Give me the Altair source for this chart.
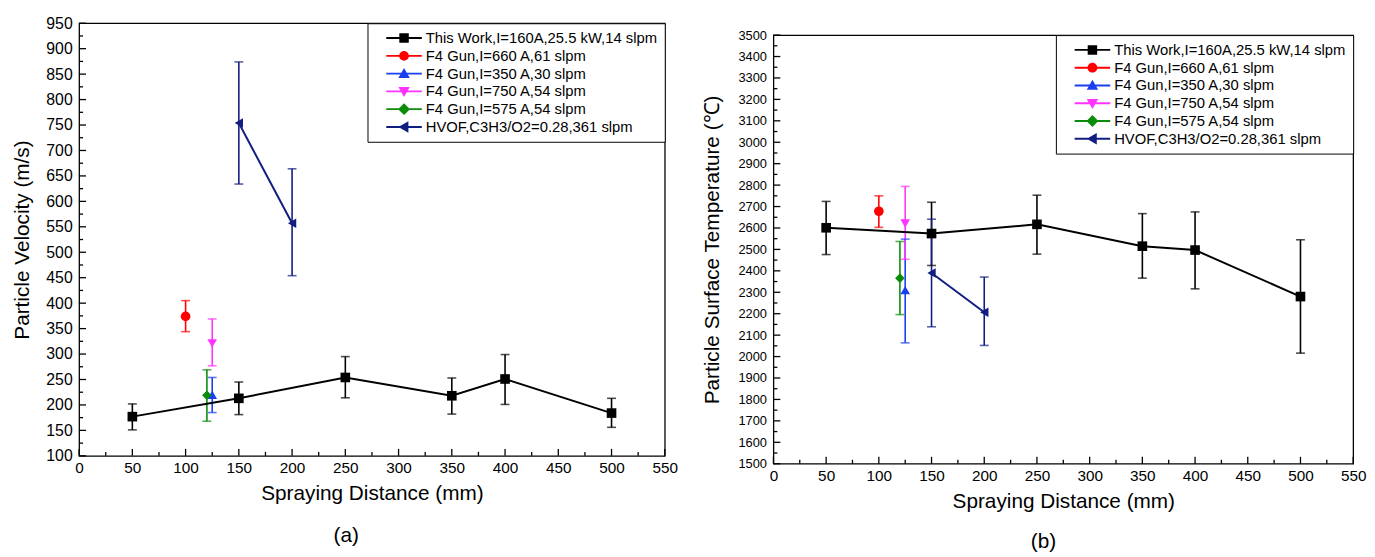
import altair as alt
import pandas as pd

FONT = "Liberation Sans"

# ---------------- data ----------------
series = [
    "This Work,I=160A,25.5 kW,14 slpm",
    "F4 Gun,I=660 A,61 slpm",
    "F4 Gun,I=350 A,30 slpm",
    "F4 Gun,I=750 A,54 slpm",
    "F4 Gun,I=575 A,54 slpm",
    "HVOF,C3H3/O2=0.28,361 slpm",
]

# spraying distance (mm)
dist_work = [50, 150, 250, 350, 400, 500]
dist_f4_660 = [100]
dist_f4_350 = [125]
dist_f4_750 = [125]
dist_f4_575 = [120]
dist_hvof = [150, 200]

# (a) particle velocity (m/s): mean, lower, upper
vel_work = [177, 213, 254, 218, 251, 184]
vel_work_lo = [151, 181, 214, 182, 201, 156]
vel_work_hi = [202, 245, 295, 253, 299, 213]
vel_f4_660, vel_f4_660_lo, vel_f4_660_hi = [374], [344], [405]
vel_f4_350, vel_f4_350_lo, vel_f4_350_hi = [220], [185], [254]
vel_f4_750, vel_f4_750_lo, vel_f4_750_hi = [321], [277], [369]
vel_f4_575, vel_f4_575_lo, vel_f4_575_hi = [219], [168], [269]
vel_hvof = [754, 557]
vel_hvof_lo = [634, 454]
vel_hvof_hi = [874, 664]

# (b) particle surface temperature (deg C): mean, lower, upper
tmp_work = [2601, 2574, 2617, 2515, 2497, 2280]
tmp_work_lo = [2476, 2425, 2478, 2366, 2316, 2016]
tmp_work_hi = [2724, 2720, 2753, 2667, 2675, 2545]
tmp_f4_660, tmp_f4_660_lo, tmp_f4_660_hi = [2678], [2603], [2750]
tmp_f4_350, tmp_f4_350_lo, tmp_f4_350_hi = [2310], [2064], [2548]
tmp_f4_750, tmp_f4_750_lo, tmp_f4_750_hi = [2621], [2454], [2794]
tmp_f4_575, tmp_f4_575_lo, tmp_f4_575_hi = [2366], [2196], [2537]
tmp_hvof = [2390, 2207]
tmp_hvof_lo = [2139, 2052]
tmp_hvof_hi = [2641, 2371]

# tick values
x_major = list(range(0, 551, 50))
x_minor = list(range(25, 551, 50))
vel_major = list(range(100, 951, 50))
vel_minor = list(range(125, 951, 50))
tmp_major = list(range(1500, 3501, 100))
tmp_minor = list(range(1550, 3501, 100))

# ---------------- style ----------------
colors = ["#000000", "#ff0000", "#1a3ff0", "#ff33ff", "#0a8c0a", "#111d80"]
marker_shapes = ["square", "circle", "triangle-up", "triangle-down", "diamond", "triangle-left"]
_LINE = "M-2.25,-0.12L2.25,-0.12L2.25,0.12L-2.25,0.12Z"
legend_symbols = [
    _LINE + "M-0.6,-0.6L0.6,-0.6L0.6,0.6L-0.6,0.6Z",
    _LINE + "M-0.62,0A0.62,0.62 0 1,1 0.62,0A0.62,0.62 0 1,1 -0.62,0Z",
    _LINE + "M0,-0.72L0.72,0.55L-0.72,0.55Z",
    _LINE + "M0,0.72L-0.72,-0.55L0.72,-0.55Z",
    _LINE + "M0,-0.75L0.75,0L0,0.75L-0.75,0Z",
    _LINE + "M-0.72,0L0.55,-0.72L0.55,0.72Z",
]
shape_of = dict(zip(series, marker_shapes))
cscale = alt.Scale(domain=series, range=colors)


def build(groups):
    rows = []
    for s, (xs, ys, los, his) in zip(series, groups):
        for x, y, lo, hi in zip(xs, ys, los, his):
            rows.append({"series": s, "dist": x, "val": y, "lo": lo, "hi": hi,
                         "shp": shape_of[s]})
    return pd.DataFrame(rows)


df_a = build([
    (dist_work, vel_work, vel_work_lo, vel_work_hi),
    (dist_f4_660, vel_f4_660, vel_f4_660_lo, vel_f4_660_hi),
    (dist_f4_350, vel_f4_350, vel_f4_350_lo, vel_f4_350_hi),
    (dist_f4_750, vel_f4_750, vel_f4_750_lo, vel_f4_750_hi),
    (dist_f4_575, vel_f4_575, vel_f4_575_lo, vel_f4_575_hi),
    (dist_hvof, vel_hvof, vel_hvof_lo, vel_hvof_hi),
])
df_b = build([
    (dist_work, tmp_work, tmp_work_lo, tmp_work_hi),
    (dist_f4_660, tmp_f4_660, tmp_f4_660_lo, tmp_f4_660_hi),
    (dist_f4_350, tmp_f4_350, tmp_f4_350_lo, tmp_f4_350_hi),
    (dist_f4_750, tmp_f4_750, tmp_f4_750_lo, tmp_f4_750_hi),
    (dist_f4_575, tmp_f4_575, tmp_f4_575_lo, tmp_f4_575_hi),
    (dist_hvof, tmp_hvof, tmp_hvof_lo, tmp_hvof_hi),
])


def panel(df, ydom, y_major, y_minor, ytitle, ylab_size, ytitle_pad, W, H, tag, tag_dx,
          tag_offset):
    xs = alt.Scale(domain=[0, 550], nice=False, zero=False)
    ys = alt.Scale(domain=ydom, nice=False, zero=False)
    xaxis = alt.Axis(values=x_major, format="d", title="Spraying Distance (mm)",
                     ticks=False, domain=False, grid=False, labelFlush=False,
                     labelFont=FONT, labelFontSize=15.5, labelColor="black", labelPadding=5,
                     titleFont=FONT, titleFontSize=21, titleFontWeight="normal",
                     titleColor="black", titlePadding=7)
    yaxis = alt.Axis(values=y_major, format="d", title=ytitle,
                     ticks=False, domain=False, grid=False, labelFlush=False,
                     labelOverlap=False,
                     labelFont=FONT, labelFontSize=ylab_size, labelColor="black", labelPadding=7,
                     titleFont=FONT, titleFontSize=21, titleFontWeight="normal",
                     titleColor="black", titlePadding=ytitle_pad)
    X = alt.X("dist:Q", scale=xs, axis=xaxis)
    base = alt.Chart(df)
    col = alt.Color("series:N", scale=cscale, legend=None)

    leg = alt.Legend(title=None, orient="top-right", offset=0,
                     symbolSize=256, symbolOffset=22, symbolStrokeWidth=0,
                     symbolOpacity=1, labelOffset=14, labelFont=FONT, labelFontSize=15,
                     labelColor="black", labelLimit=500, rowPadding=2, padding=7,
                     strokeColor="black", fillColor="white", cornerRadius=0)
    legend_layer = base.mark_point(filled=True, opacity=0).encode(
        X, alt.Y("val:Q", scale=ys, axis=yaxis),
        color=alt.Color("series:N", scale=cscale, legend=leg),
        shape=alt.Shape("series:N", scale=alt.Scale(domain=series, range=legend_symbols),
                        legend=leg),
    )

    def ticks_x(vals, length):
        return alt.Chart(pd.DataFrame({"v": vals})).mark_rule(
            color="black", strokeWidth=1.3).encode(
            x=alt.X("v:Q", scale=xs, axis=xaxis),
            y=alt.value(H), y2=alt.value(H - length))

    def ticks_y(vals, length):
        return alt.Chart(pd.DataFrame({"v": vals})).mark_rule(
            color="black", strokeWidth=1.3).encode(
            y=alt.Y("v:Q", scale=ys, axis=yaxis),
            x=alt.value(0), x2=alt.value(length))

    err = base.mark_rule(strokeWidth=1.6).encode(
        X, alt.Y("lo:Q", scale=ys, axis=yaxis), y2="hi:Q", color=col)
    cap_lo = base.mark_tick(orient="horizontal", size=9, thickness=1.6).encode(
        X, alt.Y("lo:Q", scale=ys, axis=yaxis), color=col)
    cap_hi = base.mark_tick(orient="horizontal", size=9, thickness=1.6).encode(
        X, alt.Y("hi:Q", scale=ys, axis=yaxis), color=col)
    line = base.mark_line(strokeWidth=2).encode(
        X, alt.Y("val:Q", scale=ys, axis=yaxis), color=col)
    pts = base.mark_point(filled=True, size=95, opacity=1).encode(
        X, alt.Y("val:Q", scale=ys, axis=yaxis), color=col,
        shape=alt.Shape("shp:N", scale=None))

    layers = [legend_layer, ticks_x(x_major, 7), ticks_x(x_minor, 4),
              ticks_y(y_major, 7), ticks_y(y_minor, 4),
              err, cap_lo, cap_hi, line, pts]
    return alt.layer(*layers).properties(
        width=W, height=H,
        title=alt.TitleParams(tag, orient="bottom", dx=tag_dx, offset=tag_offset, font=FONT,
                              fontSize=21, fontWeight="normal", color="black"))


panel_a = panel(df_a, [100, 950], vel_major, vel_minor, "Particle Velocity (m/s)",
                16, 14, 593, 438, "(a)", -26, 22)
panel_b = panel(df_b, [1500, 3500], tmp_major, tmp_minor,
                "Particle Surface Temperature (\u2103)", 13, 16, 587, 434, "(b)", -20, 20)

# empty strip that lowers panel (b) a little, as in the original figure
spacer = alt.Chart(pd.DataFrame({"k": [0]})).mark_point(opacity=0).encode(
    x=alt.value(0), y=alt.value(0)
).properties(width=587, height=1, view=alt.ViewBackground(strokeOpacity=0))

right = alt.vconcat(spacer, panel_b, spacing=2).resolve_scale(
    color="independent", shape="independent")

chart = (
    alt.hconcat(panel_a, right, spacing=22)
    .resolve_scale(color="independent", shape="independent")
    .resolve_legend(color="independent", shape="independent")
    .configure_view(stroke="black", strokeWidth=1.3)
    .properties(padding={"left": 2, "top": 3, "right": 0, "bottom": 0},
                background="white")
)

chart.save("out.html", embed_options={"renderer": "svg", "actions": False})
